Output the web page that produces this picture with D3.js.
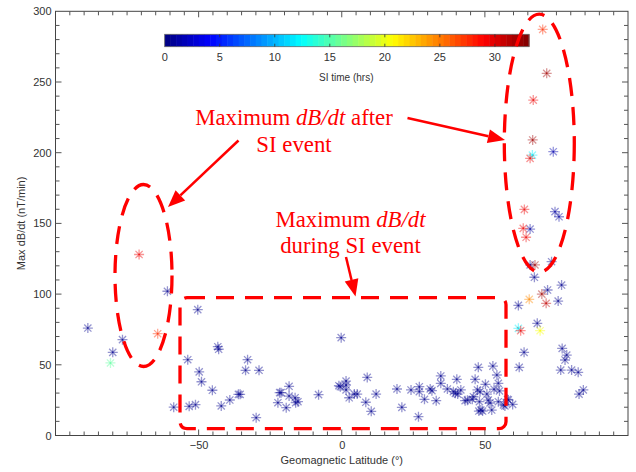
<!DOCTYPE html>
<html><head><meta charset="utf-8">
<script src="https://cdn.jsdelivr.net/npm/d3@7"></script>
<style>body{margin:0;background:#fff}svg{display:block}</style>
</head><body><svg id="c" width="636" height="472"></svg>
<script>
// ---- data ----
const lat = [
 -88.7,-80,-76.6,-60.9,-80.8,-70.8,-64.3,
 -50.3,-53.8,-49.8,-49,-58.7,-53.3,-51.1,-43.3,-43,-45.2,-42.1,-39.1,-36.1,-35.5,-32.9,-33.6,-28.9,-29.9,-22.3,-21.7,-21.2,-18.4,-18.4,-19.4,-16.3,-16.1,-15.3,-8.1,
 -0.2,-1,-0.5,1.5,1.5,1.5,2.6,4.4,5.4,8.9,8.4,10.3,12,19.3,21,24.2,26.8,27.1,27.1,28.9,30.9,31.5,33,34.6,34.6,36.9,39,39.7,40.5,40.2,41.6,43.1,43.9,45.6,46,46.6,47.7,47.4,48.3,48.1,48.6,47.9,49.2,50.2,50.7,51.2,51.8,52.4,52.8,53.2,54.2,54.7,55.1,54.7,57,58.2,59.7,57.9,56.5,
 61.7,63.7,62,68.3,65.8,73.3,67.3,76.8,71.9,75.6,77,78.6,78,76.5,80.3,82.6,84.4,82.9,73.9,74.5,75.9,65.8,
 67.5,69.9,65.5,71.4,61.7,62.5,69.3,70.2,71.6,66.9,66.7,66.6,65.8,63.8,63.4,64.4
];
const maxDbdt = [
 76,58.8,67.8,102,51.3,128,72,
 89,53.6,45,38,20,20.6,21.8,62.8,61,32,20.9,25.1,29.1,29.1,53.6,46.1,46.1,12.6,23.2,30.3,30.3,34.8,27.9,19.7,26.7,23.2,23.9,28.9,
 69.2,35.2,34.5,38.5,35.7,32.2,26.7,29.3,29.3,41.1,23.5,17.1,29.3,32.9,19.9,32.2,13.3,34.5,31,25.6,32.9,31.7,24.6,42.1,36.9,32.9,31,29.8,29.3,39.7,32.2,24.6,25,25.6,27.4,39.7,48.2,32.2,31,23.9,18,17.3,17.3,36.2,29.3,25,23,18,49.1,32.7,42.8,36.9,31.5,23.9,20.9,25.1,22,25.6,21.6,
 92,58.8,48.2,79.3,120.6,122.9,111.9,106.4,102.9,95.1,61.6,56.9,53.4,46.3,46.3,44.7,32.2,29.3,200.7,158.3,154.7,146,
 120.6,100,96.3,93.5,75.8,74.1,74.1,287.2,256.1,237.2,209,198.3,196,159.9,146.5,140.2
];
const siTime = [
 0.5,0.5,0.5,0.5,15.5,29.5,27.5,
 0.5,0.5,0.5,0.5,0.5,0.5,0.5,0.5,0.5,0.5,0.5,0.5,0.5,0.5,0.5,0.5,0.5,0.5,0.5,0.5,0.5,0.5,0.5,0.5,0.5,0.5,0.5,0.5,
 0.5,0.5,0.5,0.5,0.5,0.5,0.5,0.5,0.5,0.5,0.5,0.5,0.5,0.5,0.5,0.5,0.5,0.5,0.5,0.5,0.5,0.5,0.5,0.5,0.5,0.5,0.5,0.5,0.5,0.5,0.5,0.5,0.5,0.5,0.5,0.5,0.5,0.5,0.5,0.5,0.5,0.5,0.5,0.5,0.5,0.5,0.5,0.5,0.5,0.5,0.5,0.5,0.5,0.5,0.5,0.5,0.5,0.5,0.5,
 0.5,0.5,0.5,0.5,0.5,0.5,0.5,0.5,0.5,0.5,0.5,0.5,0.5,0.5,0.5,0.5,0.5,0.5,1.5,1,1,1,
 32,32,24.5,31,12,29,20.5,27.5,32,29.5,32,12,29.5,29.5,29.5,29.5
];
const xTicks = [-50, 0, 50];
const yTicks = [0, 50, 100, 150, 200, 250, 300];
const cbTicks = [0, 5, 10, 15, 20, 25, 30];
const cbMax = 33.1;
const xLabel = "Geomagnetic Latitude (\u00b0)";
const yLabel = "Max dB/dt (nT/min)";
const cbLabel = "SI time (hrs)";

// ---- layout ----
const svg = d3.select("#c");
const L = 55.5, R = 628, T = 11.3, B = 435.5;
const x = d3.scaleLinear().domain([-100, 100]).range([L, R]);
const y = d3.scaleLinear().domain([0, 300]).range([B, T]);
const clamp = v => Math.max(0, Math.min(1, v));
const jet = t => {
  const r = clamp(1.5 - Math.abs(4*t - 3)), g = clamp(1.5 - Math.abs(4*t - 2)), b = clamp(1.5 - Math.abs(4*t - 1));
  return d3.rgb(r*255, g*255, b*255).toString();
};
const cScale = d3.scaleLinear().domain([0, cbMax]).range([0, 1]).clamp(true);
const font = "Liberation Sans, Arial, sans-serif";
const axCol = "#333";

// axes box
svg.append("rect").attr("x", L).attr("y", T).attr("width", R-L).attr("height", B-T)
  .attr("fill", "none").attr("stroke", "#444").attr("stroke-width", 1);

// ticks (inward) on all four sides
const xMinor = d3.range(-95, 100, 5);
const yMinor = d3.range(10, 300, 10);
const tickG = svg.append("g").attr("stroke", "#555").attr("stroke-width", 1);
xMinor.forEach(v => {
  const len = (v % 50 === 0) ? 6 : 4;
  tickG.append("line").attr("x1", x(v)).attr("x2", x(v)).attr("y1", B).attr("y2", B-len);
  tickG.append("line").attr("x1", x(v)).attr("x2", x(v)).attr("y1", T).attr("y2", T+len);
});
yMinor.forEach(v => {
  const len = (v % 50 === 0) ? 6 : 4;
  tickG.append("line").attr("y1", y(v)).attr("y2", y(v)).attr("x1", L).attr("x2", L+len);
  tickG.append("line").attr("y1", y(v)).attr("y2", y(v)).attr("x1", R).attr("x2", R-len);
});

// tick labels
const xAxis = d3.axisBottom(x).tickValues(xTicks).tickSize(0).tickPadding(6);
const gx = svg.append("g").attr("transform", `translate(0,${B})`).call(xAxis);
gx.select(".domain").remove();
gx.selectAll("text").attr("font-family", font).attr("font-size", 11).attr("fill", axCol);
const yAxis = d3.axisLeft(y).tickValues(yTicks).tickSize(0).tickPadding(4);
const gy = svg.append("g").attr("transform", `translate(${L},0)`).call(yAxis);
gy.select(".domain").remove();
gy.selectAll("text").attr("font-family", font).attr("font-size", 11).attr("fill", axCol);

svg.append("text").attr("x", x(0)).attr("y", 464).attr("text-anchor", "middle")
  .attr("font-family", font).attr("font-size", 11).attr("fill", axCol).text(xLabel);
svg.append("text").attr("transform", `translate(25,${(T+B)/2}) rotate(-90)`).attr("text-anchor", "middle")
  .attr("font-family", font).attr("font-size", 11).attr("fill", axCol).text(yLabel);

// colorbar
const cbL = 164.7, cbR = 529, cbT = 34.3, cbB = 46.7;
const cbx = d3.scaleLinear().domain([0, cbMax]).range([cbL, cbR]);
const nBands = 64;
const bands = d3.range(nBands);
svg.append("g").selectAll("rect").data(bands).join("rect")
  .attr("x", i => cbx(i*cbMax/nBands)).attr("y", cbT)
  .attr("width", i => cbx((i+1)*cbMax/nBands) - cbx(i*cbMax/nBands) + 0.5)
  .attr("height", cbB - cbT)
  .attr("fill", i => jet((i+0.5)/nBands));
svg.append("rect").attr("x", cbL).attr("y", cbT).attr("width", cbR-cbL).attr("height", cbB-cbT)
  .attr("fill", "none").attr("stroke", "#666").attr("stroke-width", 0.8);
const cbG = svg.append("g").attr("stroke", "#333").attr("stroke-width", 0.8);
cbTicks.slice(1).forEach(v => {
  cbG.append("line").attr("x1", cbx(v)).attr("x2", cbx(v)).attr("y1", cbT).attr("y2", cbT+3);
  cbG.append("line").attr("x1", cbx(v)).attr("x2", cbx(v)).attr("y1", cbB).attr("y2", cbB-3);
});
svg.append("g").selectAll("text").data(cbTicks).join("text")
  .attr("x", d => cbx(d)).attr("y", 61).attr("text-anchor", "middle")
  .attr("font-family", font).attr("font-size", 11).attr("fill", axCol).text(d => d);
svg.append("text").attr("x", cbx(16.5)).attr("y", 81).attr("text-anchor", "middle")
  .attr("font-family", font).attr("font-size", 10).attr("fill", axCol).text(cbLabel);

// points (asterisk markers)
const pts = lat.map((d, i) => ({lat: d, v: maxDbdt[i], t: siTime[i]}));
pts.sort((a, b) => a.t - b.t);
const s = 5, d2 = s * 0.72;
const star = `M${-s},0L${s},0M0,${-s}L0,${s}M${-d2},${-d2}L${d2},${d2}M${-d2},${d2}L${d2},${-d2}`;
const pg = svg.append("g");
pg.selectAll("path").data(pts).join("path")
  .attr("transform", d => `translate(${x(d.lat)},${y(d.v)})`)
  .attr("d", star)
  .attr("fill", "none")
  .attr("stroke", d => jet(cScale(d.t)))
  .attr("stroke-width", 1.3)
  .attr("stroke-opacity", 0.42);
pg.selectAll("circle").data(pts).join("circle")
  .attr("cx", d => x(d.lat)).attr("cy", d => y(d.v)).attr("r", 1)
  .attr("fill", d => jet(cScale(d.t))).attr("fill-opacity", 0.8);

// annotations
const red = "#ff0000";
const ann = svg.append("g");
const dash = "18,11";
ann.append("ellipse").attr("cx", 143.5).attr("cy", 275.5).attr("rx", 28.5).attr("ry", 91)
  .attr("fill", "none").attr("stroke", red).attr("stroke-width", 3.3).attr("stroke-dasharray", dash);
ann.append("ellipse").attr("cx", 539.3).attr("cy", 143.2).attr("rx", 35).attr("ry", 129)
  .attr("fill", "none").attr("stroke", red).attr("stroke-width", 3.3).attr("stroke-dasharray", dash);
ann.append("rect").attr("x", 180).attr("y", 297.7).attr("width", 326).attr("height", 131).attr("rx", 7)
  .attr("fill", "none").attr("stroke", red).attr("stroke-width", 3.3).attr("stroke-dasharray", dash);

function arrow(x1, y1, x2, y2) {
  const ang = Math.atan2(y2 - y1, x2 - x1);
  const hl = 17, hw = 7;
  const bx = x2 - hl*Math.cos(ang), by = y2 - hl*Math.sin(ang);
  ann.append("line").attr("x1", x1).attr("y1", y1).attr("x2", bx).attr("y2", by)
    .attr("stroke", red).attr("stroke-width", 2.5);
  const px = -Math.sin(ang)*hw, py = Math.cos(ang)*hw;
  ann.append("path").attr("d", `M${x2},${y2}L${bx+px},${by+py}L${bx-px},${by-py}Z`).attr("fill", red);
}
arrow(238.5, 140.5, 168, 207);
arrow(407.5, 118, 505, 140);
arrow(346, 257, 355.5, 296.5);

const serif = "Liberation Serif, Times New Roman, serif";
function label(cx, yb, parts) {
  const t = ann.append("text").attr("x", cx).attr("y", yb).attr("text-anchor", "middle")
    .attr("font-family", serif).attr("font-size", 22.8).attr("fill", red);
  parts.forEach(p => t.append("tspan").attr("font-style", p[1] ? "italic" : "normal").text(p[0]));
}
label(294, 125, [["Maximum ", false], ["dB/dt", true], [" after", false]]);
label(294, 152, [["SI event", false]]);
label(350.5, 226.5, [["Maximum ", false], ["dB/dt", true]]);
label(350.5, 252.5, [["during SI event", false]]);
</script></body></html>
